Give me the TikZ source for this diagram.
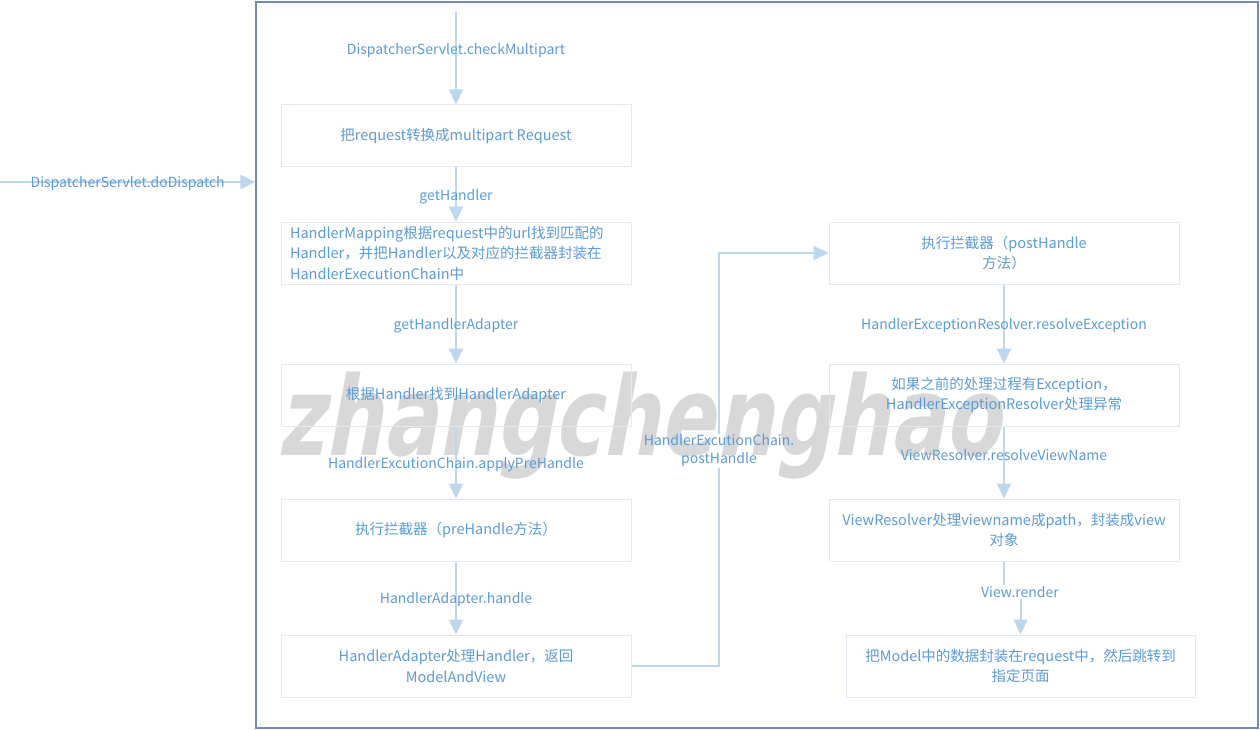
\documentclass[tikz,border=0pt]{standalone}
\usepackage{fontspec}
\setmainfont{Noto Sans CJK SC}
\newfontfamily\wmfont{DejaVu Sans}[FakeSlant=0.25,BoldFeatures={FakeSlant=0.25}]
\usetikzlibrary{positioning}
\usetikzlibrary{arrows.meta}
\definecolor{txtblue}{RGB}{91,155,213}
\definecolor{lineblue}{RGB}{189,215,238}
\definecolor{boxline}{RGB}{226,233,243}
\definecolor{framecol}{RGB}{112,140,180}
\definecolor{wmgray}{RGB}{216,216,216}
\tikzset{
    stepbox/.style = {rectangle, draw=boxline, line width=1pt, minimum width=350pt, minimum height=62pt, inner sep=0pt, align=center, text=txtblue, font=\fontsize{14.5}{20.5}\selectfont},
    lbl/.style = {text=txtblue, align=center, inner sep=1pt, yshift=-2pt, font=\fontsize{14}{18}\selectfont},
    outer/.style = {rectangle, draw=framecol, line width=1.2pt, minimum width=1002pt, minimum height=726pt, inner sep=0pt},
    wmark/.style = {text=wmgray, anchor=base west, inner sep=0pt, xscale=0.74, font=\wmfont\bfseries\fontsize{110}{110}\selectfont},
    edgeb/.style = {-{Triangle[width=14pt,length=15pt]}, line width=2pt, lineblue}, % arrow
    edgel/.style = {line width=2pt, lineblue} % plain piece
}
\begin{document}
\begin{tikzpicture}[x=1pt,y=-1pt]
%
\path[use as bounding box] (0,0) rectangle (1260,730);
\node[wmark] at (277,455) (wm) {zhangchenghao};
\node[outer] at (757,365) (frame) {};
%
\coordinate (src) at (0,182);
\coordinate (top) at (456,12);
\coordinate (bend) at (719,666);
%
\node[stepbox] at (456,136) (box1) {把request转换成multipart Request};
\node[stepbox, align=left, text width=332pt] at (456,253) (box2) {HandlerMapping根据request中的url找到匹配的\\Handler，并把Handler以及对应的拦截器封装在\\HandlerExecutionChain中};
\node[stepbox] at (456,395) (box3) {根据Handler找到HandlerAdapter};
\node[stepbox] at (456,530) (box4) {执行拦截器（preHandle方法）};
\node[stepbox] at (456,666) (box5) {HandlerAdapter处理Handler，返回\\ModelAndView};
\node[stepbox] at (1004,253) (box6) {执行拦截器（postHandle\\方法）};
\node[stepbox] at (1004,395) (box7) {如果之前的处理过程有Exception，\\HandlerExceptionResolver处理异常};
\node[stepbox] at (1004,530) (box8) {ViewResolver处理viewname成path，封装成view\\对象};
\node[stepbox, minimum width=349pt] at (1020.5,666) (box9) {把Model中的数据封装在request中，然后跳转到\\指定页面};
%
\node[lbl] at (719,449) (ph) {HandlerExcutionChain.\\postHandle};
\node[lbl] at (1020,590) (vr) {View.render};
%
\draw[edgeb] (src) -- node[lbl] {DispatcherServlet.doDispatch} (frame.west |- src);
\draw[edgeb] (top) -- node[lbl, pos=0.4] {DispatcherServlet.checkMultipart} (box1);
\draw[edgeb] (box1) -- node[lbl] {getHandler} (box2);
\draw[edgeb] (box2) -- node[lbl] {getHandlerAdapter} (box3);
\draw[edgeb] (box3) -- node[lbl] {HandlerExcutionChain.applyPreHandle} (box4);
\draw[edgeb] (box4) -- node[lbl] {HandlerAdapter.handle} (box5);
\draw[edgel] (box5.east) -- (bend) -- (bend |- ph.south);
\draw[edgeb] (bend |- ph.north) |- (box6.west);
\draw[edgeb] (box6) -- node[lbl] {HandlerExceptionResolver.resolveException} (box7);
\draw[edgeb] (box7) -- node[lbl, pos=0.37] {ViewResolver.resolveViewName} (box8);
\draw[edgel] (box8) -- (box8.south |- vr.north);
\draw[edgeb] (vr.south -| box9.north) -- (box9);

\end{tikzpicture}
\end{document}
